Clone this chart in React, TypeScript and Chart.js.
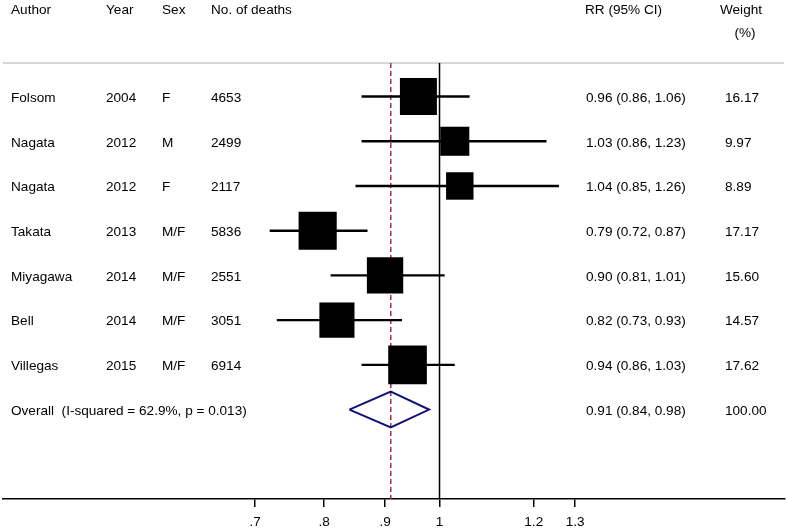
import { useEffect, useRef } from "react";
import { Chart, registerables } from "chart.js";

Chart.register(...registerables);

const AUTHORS = ["Folsom", "Nagata", "Nagata", "Takata", "Miyagawa", "Bell", "Villegas"];
const YEARS = ["2004", "2012", "2012", "2013", "2014", "2014", "2015"];
const SEXES = ["F", "M", "F", "M/F", "M/F", "M/F", "M/F"];
const DEATHS = ["4653", "2499", "2117", "5836", "2551", "3051", "6914"];
const RR = [0.96, 1.03, 1.04, 0.79, 0.9, 0.82, 0.94];
const LO = [0.86, 0.86, 0.85, 0.72, 0.81, 0.73, 0.86];
const HI = [1.06, 1.23, 1.26, 0.87, 1.01, 0.93, 1.03];
const WEIGHTS = [16.17, 9.97, 8.89, 17.17, 15.6, 14.57, 17.62];

const OVERALL_LABEL = "Overall  (I-squared = 62.9%, p = 0.013)";
const OVERALL_RR = 0.91;
const OVERALL_LO = 0.84;
const OVERALL_HI = 0.98;
const OVERALL_WEIGHT = 100.0;

const TICK_VALUES = [0.7, 0.8, 0.9, 1, 1.2, 1.3];
const TICK_LABELS = [".7", ".8", ".9", "1", "1.2", "1.3"];

const FONT_FAMILY = '"Liberation Sans", Arial, Helvetica, sans-serif';

export default function App() {
  const ref = useRef<HTMLCanvasElement>(null);

  useEffect(() => {
    document.body.style.margin = "0";
    const canvas = ref.current;
    if (!canvas) return;

    const n = AUTHORS.length;
    const overallRow = n + 1;
    const FONT = `13.6px ${FONT_FAMILY}`;

    const fmt = (v: number) => v.toFixed(2);

    const textPlugin = {
      id: "forestText",
      beforeDatasetsDraw(chart: any) {
        const { ctx, chartArea } = chart;
        ctx.save();
        ctx.strokeStyle = "#c8c8c8";
        ctx.lineWidth = 1.5;
        ctx.beginPath();
        ctx.moveTo(chartArea.left, chartArea.top);
        ctx.lineTo(chartArea.right - 1, chartArea.top);
        ctx.stroke();
        ctx.restore();
      },
      afterDraw(chart: any) {
        const { ctx } = chart;
        const ys = chart.scales.y;
        ctx.save();
        ctx.font = FONT;
        ctx.fillStyle = "#000";
        ctx.textBaseline = "middle";
        ctx.textAlign = "left";
        // headers
        ctx.fillText("Author", 11, 10);
        ctx.fillText("Year", 106, 10);
        ctx.fillText("Sex", 162, 10);
        ctx.fillText("No. of deaths", 211, 10);
        ctx.fillText("RR (95% CI)", 585, 10);
        ctx.textAlign = "center";
        ctx.fillText("Weight", 741, 10);
        ctx.fillText("(%)", 745, 33);
        ctx.textAlign = "left";
        for (let i = 0; i < n; i++) {
          const y = ys.getPixelForValue(i + 1) + 1.5;
          ctx.fillText(AUTHORS[i], 11, y);
          ctx.fillText(YEARS[i], 106, y);
          ctx.fillText(SEXES[i], 162, y);
          ctx.fillText(DEATHS[i], 211, y);
          ctx.fillText(`${fmt(RR[i])} (${fmt(LO[i])}, ${fmt(HI[i])})`, 586, y);
          ctx.fillText(fmt(WEIGHTS[i]), 725, y);
        }
        const yo = ys.getPixelForValue(overallRow) + 1.5;
        ctx.fillText(OVERALL_LABEL, 11, yo);
        ctx.fillText(`${fmt(OVERALL_RR)} (${fmt(OVERALL_LO)}, ${fmt(OVERALL_HI)})`, 586, yo);
        ctx.fillText(fmt(OVERALL_WEIGHT), 725, yo);
        ctx.restore();
      },
    };

    const Y_MIN = 0.25;
    const Y_MAX = 10;
    const DIAMOND_H = 0.4;

    const ciSets = AUTHORS.map((_, i) => ({
      type: "scatter",
      data: [
        { x: LO[i], y: i + 1 },
        { x: HI[i], y: i + 1 },
      ],
      showLine: true,
      borderColor: "#000",
      borderWidth: 2.4,
      pointRadius: 0,
      order: 2,
    }));

    const chart = new Chart(canvas, {
      type: "scatter",
      data: {
        datasets: [
          {
            data: RR.map((v, i) => ({ x: v, y: i + 1 })),
            pointStyle: "rect",
            pointRadius: WEIGHTS.map((w) => (9.2 * Math.sqrt(w)) / Math.SQRT2),
            backgroundColor: "#000",
            borderColor: "#000",
            borderWidth: 0,
            order: 0,
          },
          ...ciSets,
          {
            data: [
              { x: OVERALL_LO, y: overallRow },
              { x: OVERALL_RR, y: overallRow - DIAMOND_H },
              { x: OVERALL_HI, y: overallRow },
              { x: OVERALL_RR, y: overallRow + DIAMOND_H },
              { x: OVERALL_LO, y: overallRow },
            ],
            showLine: true,
            borderColor: "#10107a",
            borderWidth: 2,
            pointRadius: 0,
            order: 1,
          },
          {
            data: [
              { x: 1, y: Y_MIN },
              { x: 1, y: Y_MAX },
            ],
            showLine: true,
            borderColor: "#000",
            borderWidth: 1.5,
            pointRadius: 0,
            order: 4,
          },
          {
            data: [
              { x: OVERALL_RR, y: Y_MIN },
              { x: OVERALL_RR, y: Y_MAX },
            ],
            showLine: true,
            borderColor: "#a8303c",
            borderWidth: 1.5,
            borderDash: [5, 3],
            pointRadius: 0,
            order: 3,
          },
        ] as any,
      },
      options: {
        animation: false,
        responsive: false,
        devicePixelRatio: 1,
        events: [],
        layout: { autoPadding: false, padding: { left: 3, right: 2, top: 63, bottom: 0 } },
        plugins: {
          legend: { display: false },
          tooltip: { enabled: false },
        },
        scales: {
          x: {
            type: "logarithmic",
            min: 0.4298,
            max: 1.951,
            afterBuildTicks: (scale: any) => {
              scale.ticks = TICK_VALUES.map((v) => ({ value: v }));
            },
            afterFit: (scale: any) => {
              scale.height = 30;
            },
            ticks: {
              autoSkip: false,
              maxRotation: 0,
              padding: 7,
              color: "#000",
              font: { family: FONT_FAMILY, size: 13.6 },
              callback: (value: any) => {
                const idx = TICK_VALUES.findIndex((t) => Math.abs(t - Number(value)) < 1e-9);
                return idx >= 0 ? TICK_LABELS[idx] : "";
              },
            },
            grid: {
              display: true,
              drawOnChartArea: false,
              drawTicks: true,
              tickLength: 8,
              color: "#000",
              lineWidth: 1.5,
            },
            border: { display: true, color: "#000", width: 1.5 },
          },
          y: {
            type: "linear",
            display: false,
            reverse: true,
            min: Y_MIN,
            max: Y_MAX,
          },
        },
      } as any,
      plugins: [textPlugin],
    });

    return () => chart.destroy();
  }, []);

  return (
    <div style={{ width: 787, height: 529 }}>
      <canvas ref={ref} width={787} height={529} style={{ display: "block" }} />
    </div>
  );
}
